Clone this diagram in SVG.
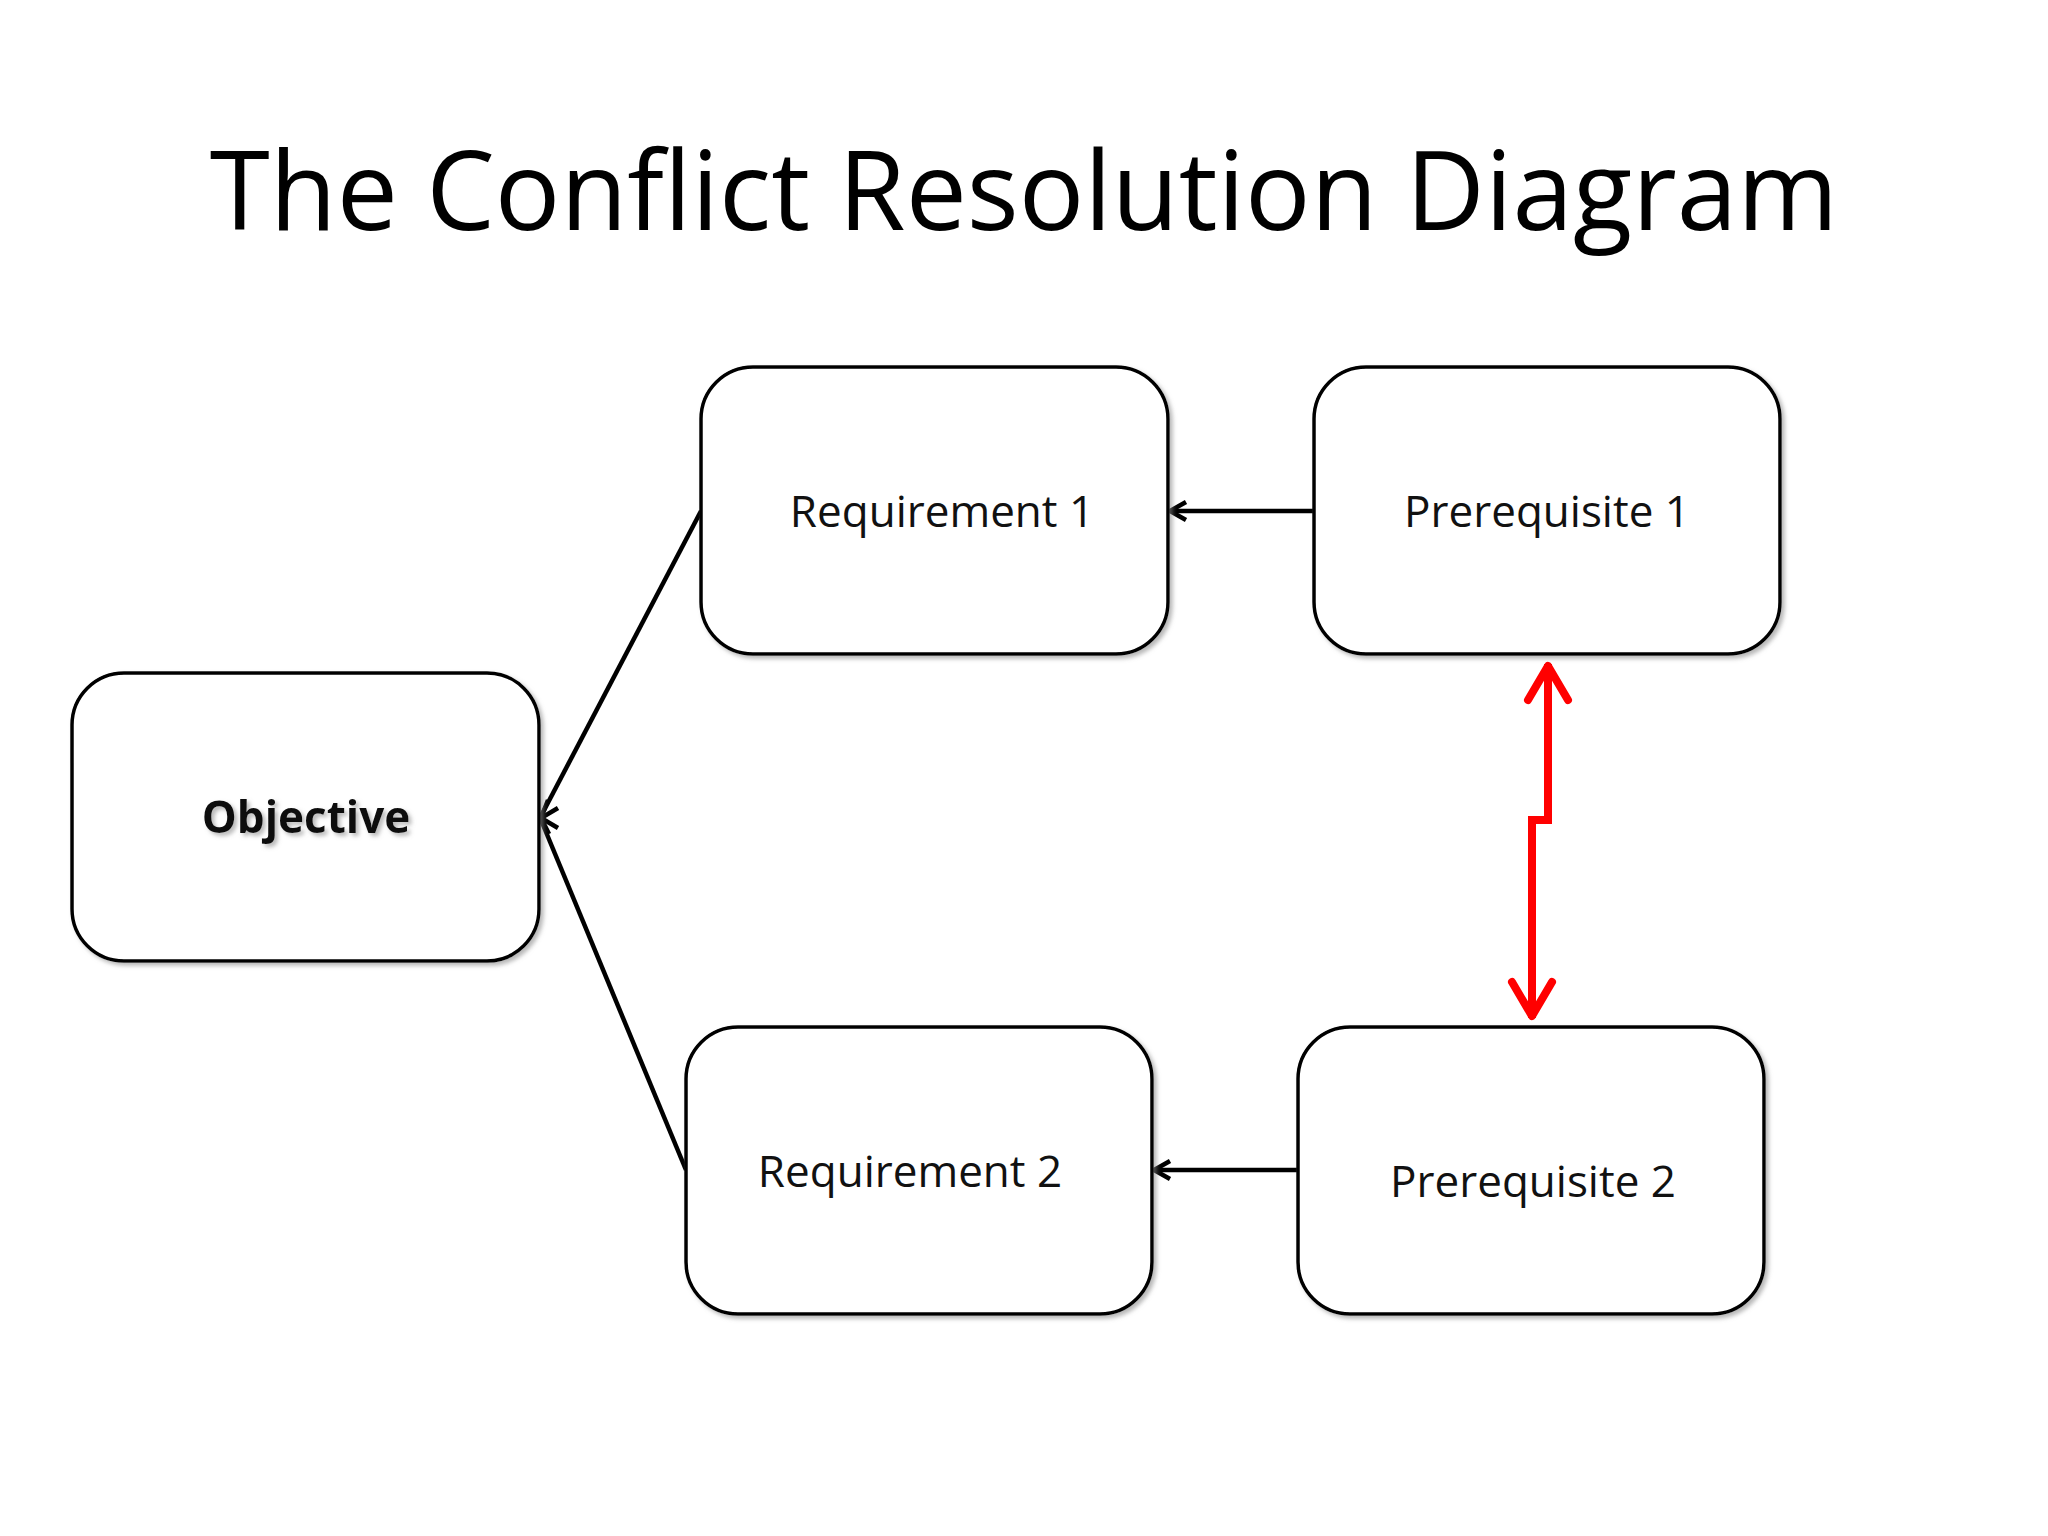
<svg xmlns="http://www.w3.org/2000/svg" width="2048" height="1536" viewBox="0 0 2048 1536">
<defs>
<style>
.box{fill:#fff;stroke:#000;stroke-width:3.5}
.lbl{font-family:"Open Sans","Liberation Sans",sans-serif;font-size:44px;text-anchor:middle;fill:#111}
.con{stroke:#000;stroke-width:4.5;fill:none}
</style>
<filter id="sh"><feDropShadow dx="3" dy="3" stdDeviation="2" flood-color="#888" flood-opacity="0.6"/></filter>
</defs>
<rect width="2048" height="1536" fill="#fff"/>
<text x="1024" y="230" font-family="'Open Sans','Liberation Sans',sans-serif" font-size="109" text-anchor="middle" fill="#000">The Conflict Resolution Diagram</text>
<g id="connectors">
<path class="con" d="M1314,511 L1172,511"/>
<path d="M1186,502 L1170,511 L1186,520" class="con"/>
<path class="con" d="M1298,1170 L1156,1170"/>
<path d="M1170,1161 L1154,1170 L1170,1179" class="con"/>
<path class="con" d="M701,511 L541,816"/>
<path class="con" d="M686,1170 L541,820"/>
<path d="M548,800 L541,818 L558,828" class="con"/>
<path d="M558,808 L541,818 L549,834" class="con"/>
<path d="M1548,664 L1548,820 L1532,820 L1532,1018" fill="none" stroke="#f00" stroke-width="8"/>
<path d="M1528,700 L1548,666 L1568,700" fill="none" stroke="#f00" stroke-width="8" stroke-linejoin="round" stroke-linecap="round"/>
<path d="M1512,982 L1532,1016 L1552,982" fill="none" stroke="#f00" stroke-width="8" stroke-linejoin="round" stroke-linecap="round"/>
</g>
<g id="req1"><rect class="box" x="701" y="367" width="467" height="287" rx="52" filter="url(#sh)"/><text class="lbl" x="942" y="527">Requirement 1</text></g>
<g id="pre1"><rect class="box" x="1314" y="367" width="466" height="287" rx="52" filter="url(#sh)"/><text class="lbl" x="1547" y="527">Prerequisite 1</text></g>
<g id="objective"><rect class="box" x="72" y="673" width="467" height="288" rx="52" filter="url(#sh)"/><text class="lbl" x="306" y="833" font-weight="bold" filter="url(#sh)">Objective</text></g>
<g id="req2"><rect class="box" x="686" y="1027" width="466" height="287" rx="52" filter="url(#sh)"/><text class="lbl" x="910" y="1187">Requirement 2</text></g>
<g id="pre2"><rect class="box" x="1298" y="1027" width="466" height="287" rx="52" filter="url(#sh)"/><text class="lbl" x="1533" y="1197">Prerequisite 2</text></g>
</svg>
